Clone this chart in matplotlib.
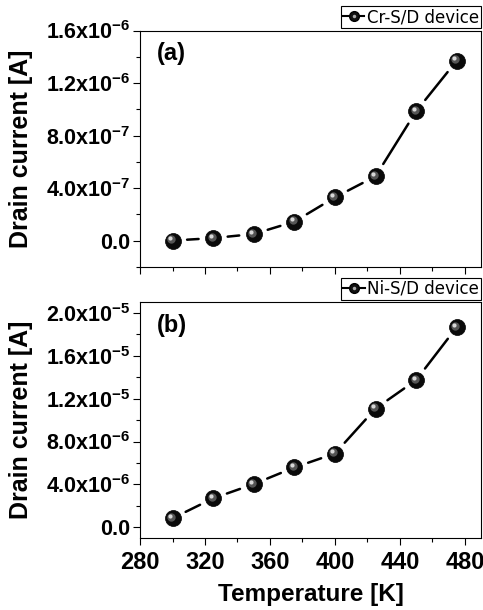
"""Drain current vs temperature for Cr-S/D and Ni-S/D devices (two stacked panels)."""

import matplotlib

matplotlib.use("Agg")
import matplotlib.pyplot as plt
from matplotlib.legend_handler import HandlerTuple
from matplotlib.lines import Line2D
from matplotlib.ticker import MultipleLocator
from matplotlib.transforms import offset_copy

temperature = [300, 325, 350, 375, 400, 425, 450, 475]
cr_current = [1e-9, 2e-8, 5.1e-8, 1.45e-7, 3.3e-7, 4.9e-7, 9.85e-7, 1.37e-6]
ni_current = [0.84e-6, 2.70e-6, 4.03e-6, 5.58e-6, 6.88e-6, 11.07e-6, 13.73e-6, 18.66e-6]

cr_ticks = [0.0, 4e-7, 8e-7, 1.2e-6, 1.6e-6]
cr_ticklabels = ["0.0", "4.0x10$^{-7}$", "8.0x10$^{-7}$", "1.2x10$^{-6}$", "1.6x10$^{-6}$"]
ni_ticks = [0.0, 4e-6, 8e-6, 1.2e-5, 1.6e-5, 2.0e-5]
ni_ticklabels = ["0.0", "4.0x10$^{-6}$", "8.0x10$^{-6}$", "1.2x10$^{-5}$",
                 "1.6x10$^{-5}$", "2.0x10$^{-5}$"]
x_ticks = [280, 320, 360, 400, 440, 480]

plt.rcParams["font.family"] = "Liberation Sans"
plt.rcParams["font.weight"] = "bold"
plt.rcParams["mathtext.fontset"] = "custom"
plt.rcParams["mathtext.rm"] = "Liberation Sans:bold"
plt.rcParams["mathtext.it"] = "Liberation Sans:bold"
plt.rcParams["mathtext.bf"] = "Liberation Sans:bold"
plt.rcParams["mathtext.default"] = "rm"

fig = plt.figure(figsize=(4.83, 6.10), dpi=100)
ax_a = fig.add_axes([0.290, 0.5623, 0.706, 0.3877])
ax_b = fig.add_axes([0.290, 0.1180, 0.706, 0.3867])


def sphere_plot(ax, x, y, label):
    # Origin-style: solid segments that stop short of each symbol
    for i in range(len(x) - 1):
        ax.annotate("", xy=(x[i + 1], y[i + 1]), xytext=(x[i], y[i]),
                    arrowprops=dict(arrowstyle="-", color="black", lw=1.8,
                                    shrinkA=10.5, shrinkB=10.5))
    ax.plot(x, y, "o", ms=11.5, color="#0a0a0a", mec="black", mew=0.5, zorder=3)
    shift1 = offset_copy(ax.transData, fig=fig, x=-1.5, y=1.5, units="dots")
    ax.plot(x, y, "o", ms=6, color="#555555", mew=0, zorder=4, transform=shift1)
    shift2 = offset_copy(ax.transData, fig=fig, x=-2.5, y=2.5, units="dots")
    ax.plot(x, y, "o", ms=3, color="#d8d8d8", mew=0, zorder=5, transform=shift2)

    h_line = Line2D([], [], color="black", lw=1.5, marker="o", ms=7, mfc="#111111", mec="black")
    h_dot = Line2D([], [], ls="none", marker="o", ms=2.5, color="#aaaaaa", mew=0)
    leg = ax.legend([(h_line, h_dot)], [label], handler_map={tuple: HandlerTuple(ndivide=1)},
                    loc="lower right", bbox_to_anchor=(1.0, 1.01), borderaxespad=0,
                    fancybox=False, edgecolor="black", framealpha=1,
                    prop={"family": "DejaVu Sans", "size": 12, "weight": "normal"},
                    handlelength=1.3, handletextpad=0.15, borderpad=0.12)
    leg.get_frame().set_linewidth(0.8)


sphere_plot(ax_a, temperature, cr_current, "Cr-S/D device")
sphere_plot(ax_b, temperature, ni_current, "Ni-S/D device")

ax_a.set_ylim(-2e-7, 1.6e-6)
ax_a.set_yticks(cr_ticks)
ax_a.set_yticklabels(cr_ticklabels)
ax_a.yaxis.set_minor_locator(MultipleLocator(2e-7))
ax_b.set_ylim(-1e-6, 2.1e-5)
ax_b.set_yticks(ni_ticks)
ax_b.set_yticklabels(ni_ticklabels)
ax_b.yaxis.set_minor_locator(MultipleLocator(2e-6))

for ax in (ax_a, ax_b):
    ax.set_xlim(280, 490)
    ax.set_xticks(x_ticks)
    ax.xaxis.set_minor_locator(MultipleLocator(20))
    ax.tick_params(which="major", direction="out", length=5, width=0.8, labelsize=15.5, pad=2)
    ax.tick_params(which="minor", direction="out", length=3, width=0.8)
    ax.tick_params(top=False, right=False)
    for spine in ax.spines.values():
        spine.set_linewidth(0.8)
    ax.set_ylabel("Drain current [A]", fontsize=18, fontweight="bold")
    ax.yaxis.set_label_coords(-0.315, 0.5)

ax_a.tick_params(axis="x", labelbottom=False)
ax_b.tick_params(axis="x", labelsize=17, pad=4)
ax_b.set_xlabel("Temperature [K]", fontsize=17.5, fontweight="bold", labelpad=7)

ax_a.text(0.05, 0.95, "(a)", transform=ax_a.transAxes, fontsize=17, fontweight="bold", va="top")
ax_b.text(0.05, 0.95, "(b)", transform=ax_b.transAxes, fontsize=17, fontweight="bold", va="top")

fig.savefig("out.png", dpi=100)
